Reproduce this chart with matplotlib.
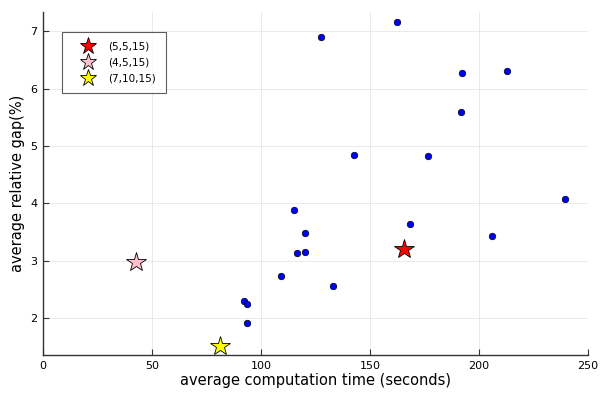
"""Gap vs. computation time scatter with three highlighted configurations."""

import matplotlib
matplotlib.use("Agg")
import matplotlib.pyplot as plt

# other parameter configurations
time_other = [127.5, 162.2, 192.0, 212.7, 191.6, 142.7, 176.4, 239.4,
              115.1, 120.0, 116.5, 120.2, 109.0, 132.9, 92.0, 93.6, 93.4,
              168.2, 206.1]
gap_other = [6.90, 7.17, 6.27, 6.31, 5.59, 4.85, 4.82, 4.07,
             3.88, 3.48, 3.13, 3.15, 2.73, 2.56, 2.30, 2.24, 1.91,
             3.64, 3.43]

# highlighted configurations
star_labels = ["(5,5,15)", "(4,5,15)", "(7,10,15)"]
star_time = [165.6, 42.5, 81.0]
star_gap = [3.20, 2.98, 1.52]
star_colors = ["red", "pink", "yellow"]

fig = plt.figure(figsize=(6, 4), dpi=100)
ax = fig.add_axes([0.072, 0.1125, 0.908, 0.8575])

ax.scatter(time_other, gap_other, s=22, c="blue", edgecolors="black",
           linewidths=0.5, zorder=3)
for lab, t, g, c in zip(star_labels, star_time, star_gap, star_colors):
    ax.plot(t, g, marker="*", markersize=14.5, color=c, markeredgecolor="black",
            markeredgewidth=0.6, linestyle="none", label=lab, zorder=4)

ax.set_xlim(0, 250)
ax.set_ylim(1.36, 7.336)
ax.set_xticks([0, 50, 100, 150, 200, 250])
ax.set_yticks([2, 3, 4, 5, 6, 7])
ax.grid(True, color="#e6e6e6", linewidth=0.6)
ax.set_axisbelow(True)
for side in ("top", "right"):
    ax.spines[side].set_visible(False)
for side in ("left", "bottom"):
    ax.spines[side].set_color("#333333")
    ax.spines[side].set_linewidth(1.0)
ax.tick_params(direction="in", length=4, width=0.8, labelsize=8, pad=4,
               color="#333333")

ax.set_xlabel("average computation time (seconds)", fontsize=10.5, labelpad=2)
ax.set_ylabel("average relative gap(%)", fontsize=10.5, labelpad=4)

leg = ax.legend(loc="upper left", bbox_to_anchor=(0.035, 0.942),
                borderaxespad=0, fontsize=7.5, frameon=True, fancybox=False,
                edgecolor="#333333", handlelength=3.2, handletextpad=0.35,
                borderpad=0.9, labelspacing=0.6, markerscale=0.85)
leg.get_frame().set_linewidth(0.8)

fig.savefig("out.png", dpi=100)
